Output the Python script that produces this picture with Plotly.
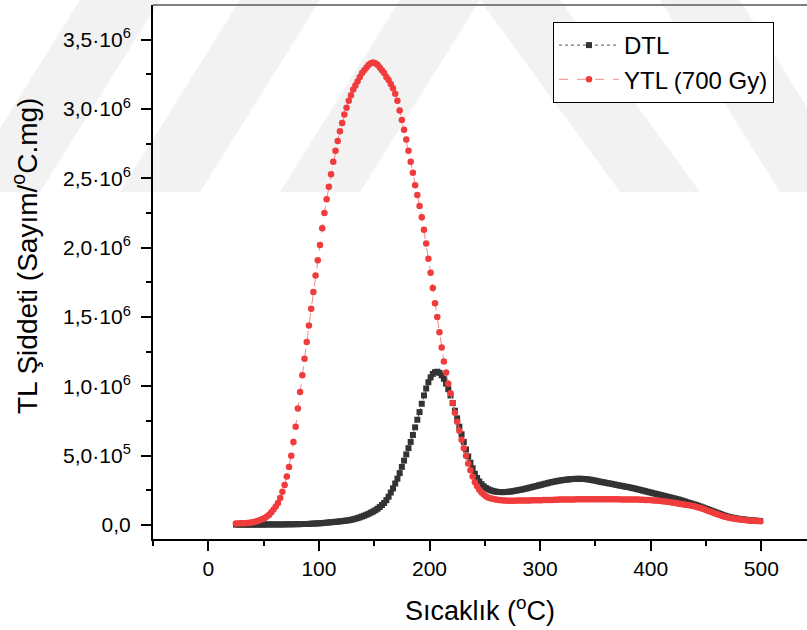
import plotly.graph_objects as go

# Temperature grid (°C) shared by both glow curves
temperature = list(range(25, 500, 2))

# DTL glow curve, intensity in units of 10^6 counts/(°C.mg)
dtl = [
    0.004, 0.004, 0.004, 0.004, 0.004, 0.004, 0.004, 0.004, 0.004, 0.004,
    0.004, 0.004, 0.004, 0.004, 0.005, 0.005, 0.005, 0.005, 0.005, 0.005,
    0.005, 0.005, 0.005, 0.006, 0.006, 0.006, 0.006, 0.007, 0.007, 0.007,
    0.008, 0.008, 0.008, 0.009, 0.010, 0.011, 0.012, 0.013, 0.013, 0.015,
    0.016, 0.018, 0.019, 0.021, 0.022, 0.024, 0.025, 0.027, 0.029, 0.031,
    0.033, 0.035, 0.038, 0.042, 0.046, 0.051, 0.056, 0.062, 0.068, 0.075,
    0.082, 0.090, 0.098, 0.107, 0.118, 0.130, 0.145, 0.160, 0.180, 0.205,
    0.235, 0.265, 0.300, 0.335, 0.375, 0.420, 0.465, 0.510, 0.555, 0.600,
    0.650, 0.705, 0.760, 0.815, 0.875, 0.935, 0.985, 1.030, 1.065, 1.090,
    1.103, 1.106, 1.098, 1.080, 1.055, 1.020, 0.980, 0.935, 0.880, 0.825,
    0.770, 0.710, 0.655, 0.600, 0.545, 0.495, 0.450, 0.410, 0.370, 0.340,
    0.315, 0.295, 0.280, 0.268, 0.259, 0.252, 0.247, 0.243, 0.240, 0.239,
    0.238, 0.238, 0.239, 0.240, 0.242, 0.244, 0.247, 0.250, 0.253, 0.256,
    0.259, 0.263, 0.267, 0.271, 0.275, 0.279, 0.283, 0.287, 0.291, 0.295,
    0.299, 0.303, 0.307, 0.311, 0.314, 0.317, 0.320, 0.323, 0.325, 0.327,
    0.329, 0.331, 0.332, 0.333, 0.334, 0.334, 0.334, 0.333, 0.332, 0.330,
    0.328, 0.325, 0.322, 0.319, 0.315, 0.312, 0.309, 0.306, 0.303, 0.300,
    0.297, 0.294, 0.290, 0.287, 0.284, 0.281, 0.278, 0.275, 0.272, 0.268,
    0.265, 0.261, 0.257, 0.253, 0.249, 0.245, 0.241, 0.237, 0.233, 0.229,
    0.225, 0.221, 0.217, 0.213, 0.209, 0.205, 0.201, 0.197, 0.193, 0.189,
    0.185, 0.180, 0.175, 0.170, 0.165, 0.160, 0.155, 0.150, 0.145, 0.140,
    0.134, 0.128, 0.122, 0.116, 0.110, 0.104, 0.098, 0.092, 0.086, 0.080,
    0.074, 0.068, 0.063, 0.059, 0.055, 0.052, 0.049, 0.046, 0.044, 0.042,
    0.040, 0.038, 0.036, 0.034, 0.033, 0.032, 0.031, 0.030,
]

# YTL glow curve after 700 Gy, same units
ytl = [
    0.012, 0.012, 0.013, 0.013, 0.014, 0.015, 0.017, 0.019, 0.022, 0.026,
    0.031, 0.037, 0.044, 0.052, 0.062, 0.075, 0.092, 0.112, 0.135, 0.160,
    0.195, 0.240, 0.290, 0.350, 0.420, 0.500, 0.600, 0.710, 0.840, 0.960,
    1.080, 1.200, 1.320, 1.440, 1.560, 1.680, 1.800, 1.910, 2.020, 2.140,
    2.250, 2.350, 2.440, 2.530, 2.620, 2.700, 2.770, 2.840, 2.900, 2.960,
    3.010, 3.060, 3.100, 3.140, 3.170, 3.200, 3.230, 3.260, 3.280, 3.300,
    3.320, 3.330, 3.335, 3.330, 3.320, 3.300, 3.280, 3.260, 3.230, 3.210,
    3.180, 3.150, 3.110, 3.060, 2.990, 2.920, 2.850, 2.780, 2.700, 2.620,
    2.540, 2.450, 2.380, 2.300, 2.220, 2.130, 2.030, 1.920, 1.820, 1.710,
    1.600, 1.500, 1.390, 1.280, 1.180, 1.100, 1.020, 0.950, 0.880, 0.810,
    0.745, 0.680, 0.615, 0.555, 0.500, 0.445, 0.395, 0.350, 0.310, 0.280,
    0.255, 0.235, 0.220, 0.208, 0.200, 0.194, 0.190, 0.186, 0.183, 0.181,
    0.179, 0.178, 0.177, 0.176, 0.176, 0.176, 0.176, 0.177, 0.177, 0.177,
    0.177, 0.178, 0.178, 0.178, 0.179, 0.179, 0.180, 0.180, 0.180, 0.181,
    0.181, 0.182, 0.182, 0.182, 0.183, 0.183, 0.184, 0.184, 0.184, 0.185,
    0.185, 0.185, 0.185, 0.185, 0.186, 0.186, 0.186, 0.186, 0.186, 0.186,
    0.186, 0.186, 0.186, 0.186, 0.186, 0.186, 0.186, 0.186, 0.186, 0.186,
    0.186, 0.186, 0.186, 0.186, 0.185, 0.185, 0.185, 0.185, 0.184, 0.184,
    0.184, 0.184, 0.184, 0.183, 0.183, 0.182, 0.182, 0.181, 0.180, 0.178,
    0.177, 0.175, 0.174, 0.172, 0.170, 0.168, 0.166, 0.163, 0.161, 0.158,
    0.156, 0.153, 0.150, 0.147, 0.145, 0.143, 0.140, 0.137, 0.133, 0.128,
    0.123, 0.118, 0.112, 0.106, 0.100, 0.094, 0.088, 0.082, 0.076, 0.071,
    0.066, 0.061, 0.057, 0.053, 0.050, 0.047, 0.045, 0.043, 0.041, 0.039,
    0.037, 0.035, 0.033, 0.032, 0.031, 0.030, 0.029, 0.028,
]

assert len(dtl) == len(temperature) == len(ytl)

# Axis ticks
x_major = [0, 100, 200, 300, 400, 500]
x_minor = [-50, 50, 150, 250, 350, 450, 550]
y_major = [0, 0.5, 1.0, 1.5, 2.0, 2.5, 3.0, 3.5]
y_labels = ["0,0", "5,0·10<sup>5</sup>", "1,0·10<sup>6</sup>", "1,5·10<sup>6</sup>",
            "2,0·10<sup>6</sup>", "2,5·10<sup>6</sup>", "3,0·10<sup>6</sup>",
            "3,5·10<sup>6</sup>"]
y_minor = [0.25, 0.75, 1.25, 1.75, 2.25, 2.75, 3.25]

FONT = "Arial, 'Liberation Sans', sans-serif"
W, H = 807, 630
L, R, T, B = 153, 0, 5, 91
PW, PH = W - L - R, H - T - B


def to_paper(x, y):
    """Pixel position on the page -> paper coordinates."""
    return (x - L) / PW, (H - B - y) / PH


def band(points):
    pts = [to_paper(x, y) for x, y in points]
    return "M " + " L ".join(f"{px:.4f},{py:.4f}" for px, py in pts) + " Z"


# faint striped background emblem
emblem = [
    [(-40, 192), (40, 192), (160, 0), (80, 0)],
    [(120, 192), (200, 192), (320, 0), (240, 0)],
    [(280, 192), (360, 192), (480, 0), (400, 0)],
    [(480, 0), (560, 0), (700, 192), (620, 192)],
    [(660, 0), (740, 0), (860, 192), (780, 192)],
]

fig = go.Figure()

fig.add_trace(go.Scatter(
    x=temperature, y=dtl, name="DTL", mode="lines+markers",
    line=dict(color="#555555", width=1, dash="dot"),
    marker=dict(symbol="square", size=6, color="#333333"),
))
fig.add_trace(go.Scatter(
    x=temperature, y=ytl, name="YTL (700 Gy)", mode="lines+markers",
    line=dict(color="#F08A8A", width=1, dash="dash"),
    marker=dict(symbol="circle", size=6.5, color="#F03C3C"),
))

shapes = [dict(type="path", path=band(p), xref="paper", yref="paper",
               fillcolor="#F2F2F2", line=dict(width=0), layer="below")
          for p in emblem]
# grey top frame line
shapes.append(dict(type="line", xref="paper", yref="paper", x0=0, x1=1, y0=1, y1=1,
                   line=dict(color="#7F7F7F", width=2)))

ytitle_x, ytitle_y = to_paper(25, 256)

fig.update_layout(
    width=W, height=H,
    margin=dict(l=L, r=R, t=T, b=B),
    paper_bgcolor="rgba(0,0,0,0)", plot_bgcolor="rgba(0,0,0,0)",
    font=dict(family=FONT, color="black"),
    showlegend=True,
    legend=dict(x=to_paper(553, 22)[0], y=to_paper(553, 22)[1],
                xanchor="left", yanchor="top",
                bgcolor="white", bordercolor="black", borderwidth=1,
                font=dict(size=24, family=FONT), itemwidth=60,
                tracegroupgap=0),
    shapes=shapes,
    annotations=[dict(
        text="TL Şiddeti (Sayım/<sup>o</sup>C.mg)", textangle=-90,
        xref="paper", yref="paper", x=ytitle_x, y=ytitle_y,
        xanchor="center", yanchor="middle", showarrow=False,
        font=dict(size=28, family=FONT, color="black"),
    )],
    xaxis=dict(
        range=[-50, -50 + PW / 1.106], showgrid=False, zeroline=False,
        showline=True, linecolor="black", linewidth=2,
        ticks="outside", ticklen=10, tickwidth=2, tickcolor="black",
        tickmode="array", tickvals=x_major, ticktext=[str(v) for v in x_major],
        tickfont=dict(size=21),
        minor=dict(tickmode="array", tickvals=x_minor, ticks="outside",
                   ticklen=5, tickwidth=2, tickcolor="black", showgrid=False),
        title=dict(text="Sıcaklık (<sup>o</sup>C)", font=dict(size=27), standoff=22),
    ),
    yaxis=dict(
        range=[-0.1, 3.75], showgrid=False, zeroline=False,
        showline=True, linecolor="black", linewidth=2,
        ticks="outside", ticklen=10, tickwidth=2, tickcolor="black",
        tickmode="array", tickvals=y_major, ticktext=y_labels,
        tickfont=dict(size=21), ticklabelstandoff=6,
        minor=dict(tickmode="array", tickvals=y_minor, ticks="outside",
                   ticklen=5, tickwidth=2, tickcolor="black", showgrid=False),
    ),
)

fig.write_html("out.html")
